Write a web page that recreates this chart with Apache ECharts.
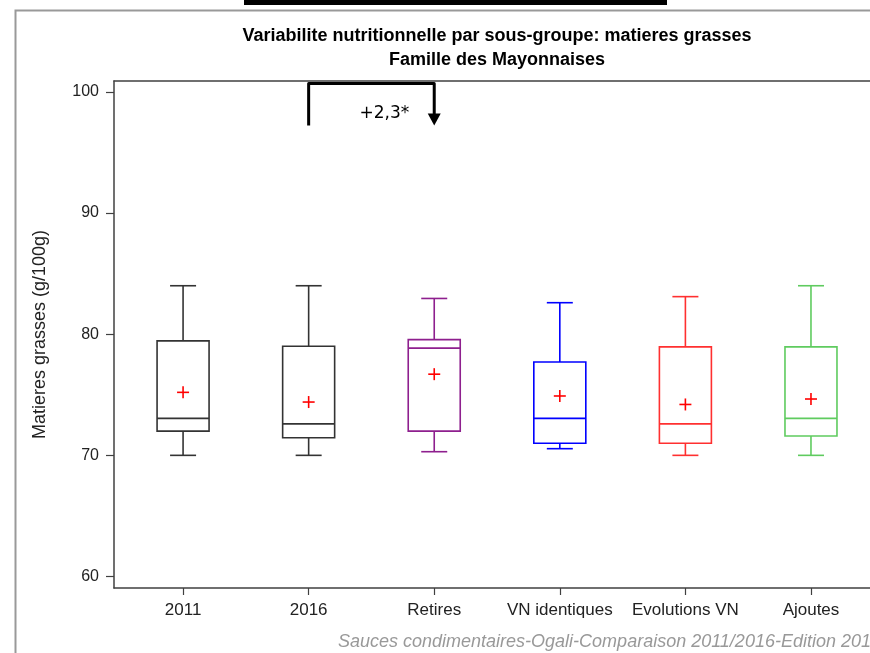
<!DOCTYPE html>
<html><head><meta charset="utf-8">
<script src="https://cdn.jsdelivr.net/npm/echarts@6/dist/echarts.min.js"></script>
<style>html,body{margin:0;padding:0;background:#fff}#c{width:870px;height:653px}</style>
</head><body><div id="c"></div>
<script>
// ---- data ----
const categories = ['2011', '2016', 'Retires', 'VN identiques', 'Evolutions VN', 'Ajoutes'];
const minValues    = [70.0, 70.0, 70.3, 70.55, 70.0, 70.0];
const q1Values     = [72.0, 71.45, 72.0, 71.0, 71.0, 71.6];
const medianValues = [73.05, 72.6, 78.85, 73.05, 72.6, 73.05];
const q3Values     = [79.45, 79.0, 79.55, 77.7, 78.95, 78.95];
const maxValues    = [84.0, 84.0, 82.95, 82.6, 83.1, 84.0];
const meanValues   = [75.2, 74.4, 76.7, 74.9, 74.2, 74.65];
const yTickValues  = [60, 70, 80, 90, 100];
const annotationFrom = '2016';
const annotationTo = 'Retires';
const annotationLabel = '+2,3*';
const titleLine1 = 'Variabilite nutritionnelle par sous-groupe: matieres grasses';
const titleLine2 = 'Famille des Mayonnaises';
const yAxisTitle = 'Matieres grasses (g/100g)';
const footerText = 'Sauces condimentaires-Ogali-Comparaison 2011/2016-Edition 2017';

// ---- styles ----
const boxColors = ['#333333', '#333333', '#8E1F8E', '#0000FF', '#FF3030', '#5FCB5F'];
const meanColor = '#FF0000';
const axisColor = '#404040';
const textColor = '#222222';

const xPositions = categories.map((c, i) => i + 1);
const boxData = categories.map((c, i) => [xPositions[i], minValues[i], q1Values[i], medianValues[i], q3Values[i], maxValues[i]]);
const meanData = categories.map((c, i) => [xPositions[i], meanValues[i]]);
const bracketData = [[categories.indexOf(annotationFrom) + 1, categories.indexOf(annotationTo) + 1]];

function renderBox(params, api) {
  const i = params.dataIndex;
  const x = api.value(0);
  const yMin = api.coord([x, api.value(1)])[1];
  const yQ1 = api.coord([x, api.value(2)])[1];
  const yMed = api.coord([x, api.value(3)])[1];
  const yQ3 = api.coord([x, api.value(4)])[1];
  const yMax = api.coord([x, api.value(5)])[1];
  const cx = api.coord([x, api.value(1)])[0];
  const hb = 26, hc = 13;
  const st = { stroke: boxColors[i], lineWidth: 1.6, fill: null };
  return {
    type: 'group',
    children: [
      { type: 'line', shape: { x1: cx - hc, y1: yMax, x2: cx + hc, y2: yMax }, style: st },
      { type: 'line', shape: { x1: cx, y1: yMax, x2: cx, y2: yQ3 }, style: st },
      { type: 'rect', shape: { x: cx - hb, y: yQ3, width: 2 * hb, height: yQ1 - yQ3 }, style: st },
      { type: 'line', shape: { x1: cx - hb, y1: yMed, x2: cx + hb, y2: yMed }, style: st },
      { type: 'line', shape: { x1: cx, y1: yQ1, x2: cx, y2: yMin }, style: st },
      { type: 'line', shape: { x1: cx - hc, y1: yMin, x2: cx + hc, y2: yMin }, style: st }
    ]
  };
}

function renderMean(params, api) {
  const p = api.coord([api.value(0), api.value(1)]);
  const h = 6;
  const st = { stroke: meanColor, lineWidth: 1.6, fill: null };
  return {
    type: 'group',
    children: [
      { type: 'line', shape: { x1: p[0] - h, y1: p[1], x2: p[0] + h, y2: p[1] }, style: st },
      { type: 'line', shape: { x1: p[0], y1: p[1] - h, x2: p[0], y2: p[1] + h }, style: st }
    ]
  };
}

function renderBracket(params, api) {
  const cs = params.coordSys;
  const x1 = api.coord([api.value(0), 80])[0];
  const x2 = api.coord([api.value(1), 80])[0];
  const top = cs.y + 2.5;
  return {
    type: 'group',
    children: [
      { type: 'polyline', shape: { points: [[x1, top + 42], [x1, top], [x2, top], [x2, top + 31]] },
        style: { stroke: '#000', lineWidth: 3, fill: null, lineJoin: 'round' } },
      { type: 'polygon', shape: { points: [[x2 - 6.5, top + 30], [x2 + 6.5, top + 30], [x2, top + 42]] },
        style: { fill: '#000' } },
      { type: 'text', x: (x1 + x2) / 2 + 13, y: top + 30,
        style: { text: annotationLabel, font: '17px "DejaVu Sans"', fill: '#000', align: 'center', verticalAlign: 'middle' } }
    ]
  };
}

const X_MIN = 0.45, X_MAX = 6.47;
const chart = echarts.init(document.getElementById('c'), null, { renderer: 'canvas' });
chart.setOption({
  animation: false,
  backgroundColor: '#fff',
  title: [
    { text: titleLine1, left: 497, top: 27, textAlign: 'center', padding: 0,
      textStyle: { fontSize: 18, fontWeight: 'bold', color: '#000', fontFamily: 'Liberation Sans' } },
    { text: titleLine2, left: 497, top: 51, textAlign: 'center', padding: 0,
      textStyle: { fontSize: 18, fontWeight: 'bold', color: '#000', fontFamily: 'Liberation Sans' } }
  ],
  grid: { left: 114, right: 0, top: 81, bottom: 65, show: false, containLabel: false },
  xAxis: [{
    type: 'value', min: X_MIN, max: X_MAX,
    axisLine: { show: true, lineStyle: { color: axisColor, width: 1.5 } },
    axisTick: { show: true, length: 7, customValues: xPositions, lineStyle: { color: axisColor, width: 1.2 } },
    axisLabel: { customValues: xPositions, margin: 14, fontSize: 17, color: textColor, fontFamily: 'Liberation Sans',
      formatter: v => categories[Math.round(v) - 1] },
    splitLine: { show: false }
  }, {
    type: 'value', position: 'top', min: X_MIN, max: X_MAX,
    axisLine: { show: true, lineStyle: { color: axisColor, width: 1.5 } },
    axisTick: { show: false }, axisLabel: { show: false }, splitLine: { show: false }
  }],
  yAxis: {
    type: 'value', min: 59.05, max: 100.9,
    name: yAxisTitle, nameLocation: 'middle', nameGap: 65,
    nameTextStyle: { fontSize: 18, color: textColor, fontFamily: 'Liberation Sans' },
    axisLine: { show: true, lineStyle: { color: axisColor, width: 1.5 } },
    axisTick: { show: true, length: 8, customValues: yTickValues, lineStyle: { color: axisColor, width: 1.2 } },
    axisLabel: { customValues: yTickValues, margin: 15, fontSize: 16, color: textColor, fontFamily: 'Liberation Sans' },
    splitLine: { show: false }
  },
  series: [
    { type: 'custom', name: 'boxes', renderItem: renderBox, data: boxData, encode: { x: 0, y: [1, 2, 3, 4, 5] }, silent: true },
    { type: 'custom', name: 'means', renderItem: renderMean, data: meanData, encode: { x: 0, y: 1 }, silent: true, z: 5 },
    { type: 'custom', name: 'bracket', renderItem: renderBracket, data: bracketData, encode: { x: [0, 1] }, silent: true, clip: false }
  ],
  graphic: [
    { type: 'rect', left: 13, top: 8, shape: { width: 900, height: 700 }, style: { stroke: '#999', lineWidth: 2, fill: null }, silent: true, z: -1 },
    { type: 'rect', left: 244, top: 0, shape: { width: 423, height: 5 }, style: { fill: '#000' }, silent: true },
    { type: 'text', left: 338, top: 633, style: { text: footerText, font: 'italic 18px "Liberation Sans"', fill: '#999' }, silent: true }
  ]
});
</script>
</body></html>
